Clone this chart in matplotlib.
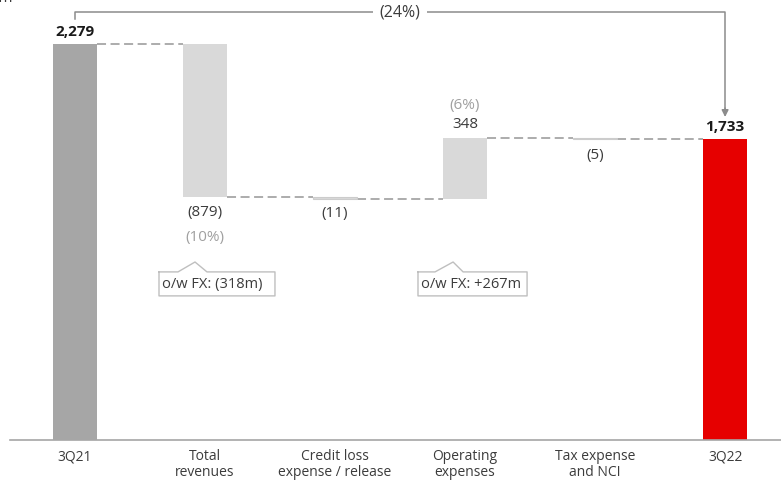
import matplotlib
matplotlib.use("Agg")
import matplotlib.pyplot as plt
import numpy as np

plt.rcParams['font.family'] = ['Open Sans', 'DejaVu Sans']

# Net profit bridge, USD m
categories = ["3Q21", "Total\nrevenues", "Credit loss\nexpense / release",
              "Operating\nexpenses", "Tax expense\nand NCI", "3Q22"]
start_value = 2279
end_value = 1733
deltas = [-879, -11, 348, -5]
delta_labels = ["(879)", "(11)", "348", "(5)"]
pct_labels = {1: "(10%)", 3: "(6%)"}
total_change_label = "(24%)"
fx_notes = {1: "o/w FX: (318m)", 3: "o/w FX: +267m"}

C_START = "#a6a6a6"
C_STEP = "#d9d9d9"
C_END = "#e60000"
C_TEXT = "#3c3c3c"
C_PCT = "#a0a0a0"
C_LINE = "#a6a6a6"

W, H = 781, 489
fig = plt.figure(figsize=(W / 100, H / 100), dpi=100)
ax = fig.add_axes([10 / W, 48 / H, 771 / W, 441 / H])
ax.set_xlim(-0.5, 5.43)
ax.set_ylim(0, 2537)

bw = 0.34
x = np.arange(len(categories))

# running levels
levels = [start_value]
for d in deltas:
    levels.append(levels[-1] + d)

# start and end bars
ax.bar(x[0], start_value, width=bw, color=C_START, zorder=2)
ax.bar(x[-1], end_value, width=bw, color=C_END, zorder=2)

# floating step bars
for i, d in enumerate(deltas):
    lo = min(levels[i], levels[i + 1])
    small = abs(d) <= 20
    ax.bar(x[i + 1], abs(d), bottom=lo, width=bw, color=C_STEP,
           edgecolor="#cccccc" if small else C_STEP,
           linewidth=0.8 if small else 0, zorder=2)

# dashed connectors
for i in range(len(categories) - 1):
    lvl = levels[i]
    ax.plot([x[i] + bw / 2, x[i + 1] - bw / 2], [lvl, lvl], color=C_LINE,
            lw=1.3, ls=(0, (5, 2.5)), zorder=1)

# value labels
for xi, val in ((x[0], start_value), (x[-1], end_value)):
    ax.annotate(f"{val:,}", (xi, val), xytext=(0, 4),
                textcoords="offset points", ha="center", va="bottom",
                fontsize=11, fontweight="bold", color="#1a1a1a")

for i, d in enumerate(deltas):
    xi = x[i + 1]
    if d > 0:
        top = levels[i + 1]
        ax.annotate(delta_labels[i], (xi, top), xytext=(0, 5),
                    textcoords="offset points", ha="center", va="bottom",
                    fontsize=11, color=C_TEXT)
        if i + 1 in pct_labels:
            ax.annotate(pct_labels[i + 1], (xi, top), xytext=(0, 18.5),
                        textcoords="offset points", ha="center", va="bottom",
                        fontsize=11, color=C_PCT)
    else:
        bot = levels[i + 1]
        off = -5 if abs(d) > 20 else -4.5
        if i == 3:
            off = -6
        ax.annotate(delta_labels[i], (xi, bot), xytext=(0, off),
                    textcoords="offset points", ha="center", va="top",
                    fontsize=11, color=C_TEXT)
        if i + 1 in pct_labels:
            ax.annotate(pct_labels[i + 1], (xi, bot), xytext=(0, -23),
                        textcoords="offset points", ha="center", va="top",
                        fontsize=11, color=C_PCT)

# overall change bracket with arrow
y_br = 2463
ax.plot([x[0], x[0], x[-1], x[-1]], [2422, y_br, y_br, 1900],
        color="#8c8c8c", lw=1.1, clip_on=False, zorder=3)
ax.annotate("", xy=(x[-1], 1858), xytext=(x[-1], 1910),
            arrowprops=dict(arrowstyle="-|>", color="#8c8c8c", lw=1.1,
                            mutation_scale=10, shrinkA=0, shrinkB=0))
ax.text((x[0] + x[-1]) / 2, y_br, total_change_label, ha="center",
        va="center", fontsize=11.5, color=C_TEXT,
        bbox=dict(boxstyle="square,pad=0.4", fc="white", ec="none"), zorder=4)

# FX callouts below revenue and opex steps
def callout(xc, left, right, nl, na, nr, text):
    y_top, y_bot, y_apex = 967, 829, 1024
    px = [xc + left, xc + nl, xc + na, xc + nr, xc + right, xc + right,
          xc + left, xc + left]
    py = [y_top, y_top, y_apex, y_top, y_top, y_bot, y_bot, y_top]
    ax.fill(px, py, color="white", zorder=3)
    ax.plot(px, py, color="#bfbfbf", lw=1.0, zorder=4)
    ax.text(xc + left + 0.022, (y_top + y_bot) / 2, text, ha="left",
            va="center", fontsize=10.5, color=C_TEXT, zorder=5)

callout(x[1], -0.354, 0.538, -0.208, -0.077, 0.015, fx_notes[1])
callout(x[3], -0.362, 0.477, -0.231, -0.092, -0.015, fx_notes[3])

# unit label at the top-left corner
fig.text(13 / W, 1.0 + 9 / H, "USD m", ha="right", va="top", fontsize=11,
         color=C_TEXT)

# axis styling
ax.set_xticks(x)
ax.set_xticklabels(categories, fontsize=10, color=C_TEXT, linespacing=1.1)
ax.tick_params(axis="x", length=0, pad=6)
ax.set_yticks([])
for s in ["left", "right", "top"]:
    ax.spines[s].set_visible(False)
ax.spines["bottom"].set_color("#a6a6a6")
ax.spines["bottom"].set_linewidth(1.2)

fig.savefig("out.png", dpi=100)
